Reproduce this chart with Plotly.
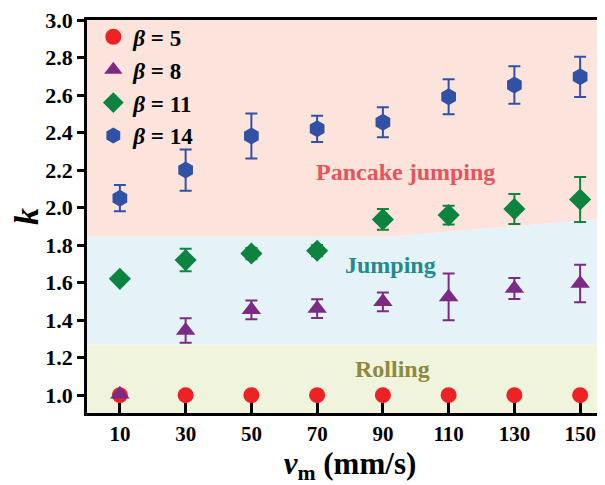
import plotly.graph_objects as go

# ---- data ----
v_m = [10, 30, 50, 70, 90, 110, 130, 150]
x_ticks = [10, 30, 50, 70, 90, 110, 130, 150]
y_ticks = [1.0, 1.2, 1.4, 1.6, 1.8, 2.0, 2.2, 2.4, 2.6, 2.8, 3.0]

k_b5 = [1.0, 1.0, 1.0, 1.0, 1.0, 1.0, 1.0, 1.0]
err_b5 = [0, 0, 0, 0, 0, 0, 0, 0]

k_b8 = [1.005, 1.345, 1.455, 1.462, 1.498, 1.524, 1.569, 1.595]
err_b8 = [0.0, 0.065, 0.05, 0.05, 0.05, 0.125, 0.056, 0.10]

k_b11 = [1.62, 1.72, 1.755, 1.77, 1.937, 1.96, 1.993, 2.043]
err_b11 = [0.0, 0.06, 0.03, 0.03, 0.055, 0.05, 0.08, 0.12]

k_b14 = [2.05, 2.20, 2.382, 2.42, 2.455, 2.591, 2.653, 2.697]
err_b14 = [0.07, 0.11, 0.12, 0.07, 0.08, 0.093, 0.10, 0.107]

# regime boundaries
region_x = [0, 92, 160]
rolling_top = [1.27, 1.27, 1.27]
jumping_top = [1.845, 1.845, 1.945]
pancake_top = [3.0, 3.0, 3.0]

x_range = [0, 160]
y_range = [0.905, 3.0]

FONT = "'Liberation Serif', 'Times New Roman', serif"

fig = go.Figure()

# shaded regions
fig.add_trace(go.Scatter(x=region_x, y=rolling_top, mode="lines", line=dict(width=0),
                         fill="tozeroy", fillcolor="#f1f4dd", showlegend=False, hoverinfo="skip"))
fig.add_trace(go.Scatter(x=region_x, y=jumping_top, mode="lines", line=dict(width=0),
                         fill="tonexty", fillcolor="#e5f3f8", showlegend=False, hoverinfo="skip"))
fig.add_trace(go.Scatter(x=region_x, y=pancake_top, mode="lines", line=dict(width=0),
                         fill="tonexty", fillcolor="#fce4dc", showlegend=False, hoverinfo="skip"))

series = [
    ("<b><i>β</i> = 5</b>", k_b5, err_b5, "#ee2125", "circle", 16),
    ("<b><i>β</i> = 8</b>", k_b8, err_b8, "#7d2a86", "triangle-up", 17),
    ("<b><i>β</i> = 11</b>", k_b11, err_b11, "#0c8440", "diamond", 17),
    ("<b><i>β</i> = 14</b>", k_b14, err_b14, "#3152a4", "hexagon", 17),
]

for name, k, e, color, sym, size in series:
    fig.add_trace(go.Scatter(
        x=v_m, y=k, mode="markers", name=name,
        marker=dict(symbol=sym, size=size, color=color, line=dict(width=0)),
        error_y=dict(type="data", array=e, visible=True, color=color, thickness=2, width=6),
    ))

fig.add_annotation(x=96.8, y=2.19, text="<b>Pancake jumping</b>", showarrow=False,
                   font=dict(family=FONT, size=24, color="#e9525a"))
fig.add_annotation(x=92.2, y=1.693, text="<b>Jumping</b>", showarrow=False,
                   font=dict(family=FONT, size=24, color="#1d8b8f"))
fig.add_annotation(x=93, y=1.139, text="<b>Rolling</b>", showarrow=False,
                   font=dict(family=FONT, size=24, color="#8c8a3c"))

# page body adds an 8px offset; margins compensate so the plot sits where the reference has it
fig.update_layout(
    width=605, height=485,
    margin=dict(l=79, r=0, t=12, b=80),
    paper_bgcolor="white", plot_bgcolor="white",
    font=dict(family=FONT, color="black"),
    showlegend=True,
    legend=dict(x=0.012, y=1.012, xanchor="left", yanchor="top", traceorder="normal",
                bgcolor="rgba(0,0,0,0)", font=dict(family=FONT, size=23, color="black"),
                itemwidth=30),
    xaxis=dict(range=x_range, tickvals=x_ticks, ticktext=[f"<b>{t}</b>" for t in x_ticks],
               ticks="inside", ticklen=10, tickwidth=2.5, tickcolor="black",
               showline=True, linewidth=2.5, linecolor="black", mirror=True,
               showgrid=False, zeroline=False, automargin=False,
               ticklabeloverflow="allow",
               tickfont=dict(family=FONT, size=21, color="black"),
               title=dict(text="<b><i>v</i><sub>m</sub> (mm/s)</b>", standoff=2,
                          font=dict(family=FONT, size=31, color="black"))),
    yaxis=dict(range=y_range, tickvals=y_ticks, ticktext=[f"<b>{t:.1f}</b>" for t in y_ticks],
               ticks="outside", ticklen=7, tickwidth=2.5, tickcolor="black",
               showline=True, linewidth=2.5, linecolor="black",
               showgrid=False, zeroline=False, automargin=False,
               ticklabeloverflow="allow",
               tickfont=dict(family=FONT, size=22, color="black"),
               title=dict(text="<b><i>k</i></b>", standoff=10,
                          font=dict(family=FONT, size=34, color="black"))),
)

fig.write_html("out.html")
